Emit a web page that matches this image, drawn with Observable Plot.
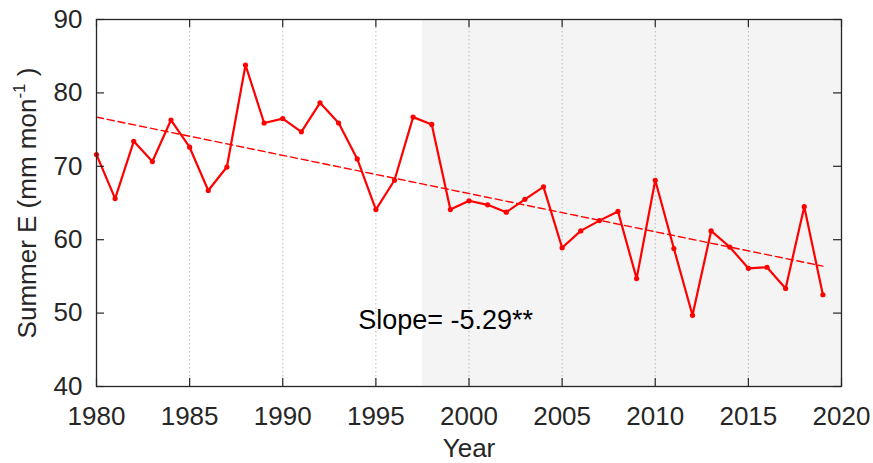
<!DOCTYPE html>
<html>
<head>
<meta charset="utf-8">
<script src="https://cdn.jsdelivr.net/npm/d3@7"></script>
<script src="https://cdn.jsdelivr.net/npm/@observablehq/plot@0.6"></script>
<style>
  html, body { margin: 0; padding: 0; background: #ffffff; }
  #chart { width: 873px; height: 463px; }
</style>
</head>
<body>
<div id="chart"></div>
<script>
const years = [1980,1981,1982,1983,1984,1985,1986,1987,1988,1989,1990,1991,1992,1993,1994,1995,1996,1997,1998,1999,2000,2001,2002,2003,2004,2005,2006,2007,2008,2009,2010,2011,2012,2013,2014,2015,2016,2017,2018,2019];
const summerE = [71.6,65.6,73.4,70.65,76.3,72.6,66.7,69.9,83.8,75.9,76.5,74.7,78.65,75.9,71.0,64.1,68.1,76.7,75.7,64.1,65.3,64.75,63.75,65.5,67.2,58.9,61.2,62.6,63.85,54.7,68.1,58.8,49.7,61.2,59.0,56.1,56.25,53.35,64.5,52.5];
const trendYears = [1980, 2019];
const trendValues = [76.7, 56.4];
const shadeRange = [1997.5, 2020];
const xTicks = [1980,1985,1990,1995,2000,2005,2010,2015,2020];
const gridTicks = [1985,1990,1995,2000,2005,2010,2015];
const yTicks = [40,50,60,70,80,90];
const slopeLabel = "Slope= -5.29**";
const slopePos = {year: 1994.05, value: 49.0};
const xTitle = "Year";
const yTitleMain = "Summer E (mm mon";
const yTitleSup = "-1";
const yTitleEnd = " )";

const data = years.map((y, i) => ({year: y, value: summerE[i]}));
const trend = trendYears.map((y, i) => ({year: y, value: trendValues[i]}));
const axisColor = "#262626";

const W = 873, H = 463, ML = 96, MR = 32, MT = 19, MB = 77;
const tickLen = 8;
const innerW = W - ML - MR, innerH = H - MT - MB;

const svg = Plot.plot({
  width: W,
  height: H,
  marginLeft: ML,
  marginRight: MR,
  marginTop: MT,
  marginBottom: MB,
  style: {fontFamily: "'Liberation Sans', Arial, sans-serif", fontSize: "26px", color: axisColor, background: "#ffffff"},
  x: {domain: [1980, 2020]},
  y: {domain: [40, 90]},
  marks: [
    Plot.rect([{x1: shadeRange[0], x2: shadeRange[1]}], {x1: "x1", x2: "x2", y1: 40, y2: 90, fill: "#f4f4f4"}),
    Plot.gridX(gridTicks, {stroke: "#b8b8b8", strokeOpacity: 1, strokeDasharray: "1.5,2.5", strokeWidth: 1}),
    Plot.line(trend, {x: "year", y: "value", stroke: "#ff0000", strokeWidth: 1.4, strokeDasharray: "7,4"}),
    Plot.line(data, {x: "year", y: "value", stroke: "#ff0000", strokeWidth: 2.2}),
    Plot.dot(data, {x: "year", y: "value", r: 2.6, fill: "#ff0000", stroke: null}),
    Plot.text([slopeLabel], {x: slopePos.year, y: slopePos.value, text: d => d, textAnchor: "start", fontSize: 27, fill: "#000000"}),
    Plot.axisX(xTicks, {anchor: "bottom", tickSize: 0, tickPadding: 20, tickFormat: d => String(d), label: null, fontSize: 26, fill: axisColor}),
    Plot.axisY(yTicks, {anchor: "left", tickSize: 0, tickPadding: 14, label: null, fontSize: 26, fill: axisColor}),
    Plot.ruleX(xTicks, {x: d => d, insetTop: innerH - tickLen, stroke: axisColor, strokeWidth: 1.2}),
    Plot.ruleX(xTicks, {x: d => d, insetBottom: innerH - tickLen, stroke: axisColor, strokeWidth: 1.2}),
    Plot.ruleY(yTicks, {y: d => d, insetRight: innerW - tickLen, stroke: axisColor, strokeWidth: 1.2}),
    Plot.ruleY(yTicks, {y: d => d, insetLeft: innerW - tickLen, stroke: axisColor, strokeWidth: 1.2}),
    Plot.frame({stroke: axisColor, strokeWidth: 1.3}),
    Plot.text([xTitle], {frameAnchor: "bottom", dy: 70, text: d => d, lineAnchor: "bottom", fontSize: 26, fill: axisColor})
  ]
});

const t = d3.select(svg).append("text")
  .attr("transform", "translate(36,203) rotate(-90)")
  .attr("text-anchor", "middle")
  .attr("fill", axisColor)
  .attr("font-family", "'Liberation Sans', Arial, sans-serif")
  .attr("font-size", 26);
t.append("tspan").text(yTitleMain);
t.append("tspan").attr("dy", -11).attr("font-size", 17).text(yTitleSup);
t.append("tspan").attr("dy", 11).text(yTitleEnd);

document.getElementById("chart").appendChild(svg);
</script>
</body>
</html>
